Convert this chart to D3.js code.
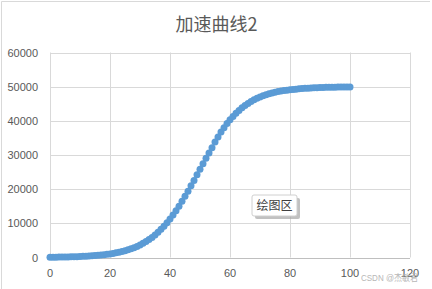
<html>
<head>
<meta charset="utf-8">
<script src="https://d3js.org/d3.v7.min.js"></script>
<style>
  body { margin: 0; background: #fff; }
  svg { display: block; }
  text { font-family: "Liberation Sans", "Noto Sans CJK SC", sans-serif; }
  .tick-label { font-size: 11px; fill: #595959; }
  .title { font-size: 18px; fill: #595959; font-family: "Noto Sans CJK SC", sans-serif; }
  .grid line { stroke: #d9d9d9; stroke-width: 1; }
</style>
</head>
<body>
<svg width="432" height="289"></svg>
<script>
const title = '加速曲线2';
const xTicks = [0, 20, 40, 60, 80, 100, 120];
const yTicks = [0, 10000, 20000, 30000, 40000, 50000, 60000];

// x = 0..100, step 1
const xValues = d3.range(0, 101);
const yValues = [
  80, 90, 105, 120, 135, 155, 175, 200, 225, 255,
  295, 335, 380, 430, 490, 560, 635, 720, 820, 930,
  1060, 1200, 1365, 1550, 1755, 1990, 2255, 2550, 2875, 3245,
  3670, 4145, 4670, 5250, 5890, 6600, 7380, 8235, 9165, 10185,
  11280, 12450, 13700, 15035, 16430, 17895, 19415, 20980, 22570, 24190,
  25810, 27430, 29020, 30585, 32105, 33800, 35300, 36700, 38000, 39200,
  40300, 41300, 42200, 43050, 43800, 44500, 45100, 45650, 46150, 46600,
  47000, 47350, 47650, 47920, 48160, 48370, 48560, 48720, 48860, 48980,
  49090, 49180, 49280, 49365, 49440, 49510, 49570, 49620, 49665, 49705,
  49740, 49770, 49795, 49820, 49840, 49860, 49875, 49890, 49900, 49910,
  49920
];
const points = xValues.map((x, i) => ({ x: x, y: yValues[i] }));

const svg = d3.select('svg');

// chart area border (left + top visible)
svg.append('line').attr('x1', 1.5).attr('y1', 1.5).attr('x2', 430).attr('y2', 1.5)
  .attr('stroke', '#d9d9d9');
svg.append('line').attr('x1', 1.5).attr('y1', 1.5).attr('x2', 1.5).attr('y2', 289)
  .attr('stroke', '#d9d9d9');

const plotLeft = 50, plotRight = 410, plotTop = 52.5, plotBottom = 257.5;

const xScale = d3.scaleLinear().domain([0, 120]).range([plotLeft, plotRight]);
const yScale = d3.scaleLinear().domain([0, 60000]).range([plotBottom, plotTop]);

// gridlines
const grid = svg.append('g').attr('class', 'grid');
grid.selectAll('line.h')
  .data(yTicks.filter(d => d > 0))
  .enter().append('line')
  .attr('x1', plotLeft).attr('x2', plotRight)
  .attr('y1', d => Math.round(yScale(d)) + 0.5)
  .attr('y2', d => Math.round(yScale(d)) + 0.5);
grid.selectAll('line.v')
  .data(xTicks)
  .enter().append('line')
  .attr('x1', d => Math.round(xScale(d)) + 0.5)
  .attr('x2', d => Math.round(xScale(d)) + 0.5)
  .attr('y1', plotTop).attr('y2', plotBottom);

// x axis line
svg.append('line')
  .attr('x1', plotLeft).attr('x2', plotRight)
  .attr('y1', Math.round(yScale(0)) + 0.5).attr('y2', Math.round(yScale(0)) + 0.5)
  .attr('stroke', '#bfbfbf');

// tick labels
svg.selectAll('text.ylab')
  .data(yTicks)
  .enter().append('text')
  .attr('class', 'tick-label')
  .attr('x', 38)
  .attr('y', d => yScale(d) + 4)
  .attr('text-anchor', 'end')
  .text(d => d);

svg.selectAll('text.xlab')
  .data(xTicks)
  .enter().append('text')
  .attr('class', 'tick-label')
  .attr('x', d => xScale(d))
  .attr('y', 277)
  .attr('text-anchor', 'middle')
  .text(d => d);

// title
svg.append('text')
  .attr('class', 'title')
  .attr('x', 216.5)
  .attr('y', 31)
  .attr('text-anchor', 'middle')
  .text(title);

// markers
svg.append('g')
  .selectAll('circle')
  .data(points)
  .enter().append('circle')
  .attr('cx', d => xScale(d.x))
  .attr('cy', d => yScale(d.y))
  .attr('r', 3.5)
  .attr('fill', '#5b9bd5');

// "绘图区" tooltip
const tip = svg.append('g').attr('transform', 'translate(252,195)');
tip.append('rect')
  .attr('x', 3).attr('y', 3).attr('width', 45).attr('height', 21).attr('rx', 2)
  .attr('fill', '#a6a6a6').attr('opacity', 0.7);
tip.append('rect')
  .attr('x', 0).attr('y', 0).attr('width', 45).attr('height', 21).attr('rx', 2)
  .attr('fill', '#fff').attr('stroke', '#d0d0d0');
tip.append('text')
  .attr('x', 22.5).attr('y', 15)
  .attr('text-anchor', 'middle')
  .attr('font-size', 12)
  .attr('fill', '#404040')
  .style('font-family', '"Noto Sans CJK SC", sans-serif')
  .text('绘图区');

// watermark
svg.append('text')
  .attr('x', 361).attr('y', 281)
  .attr('font-size', 9.5)
  .attr('textLength', 57)
  .attr('lengthAdjust', 'spacingAndGlyphs')
  .attr('fill', '#b0b0b0')
  .attr('opacity', 0.9)
  .text('CSDN @杰敏君');
</script>
</body>
</html>
